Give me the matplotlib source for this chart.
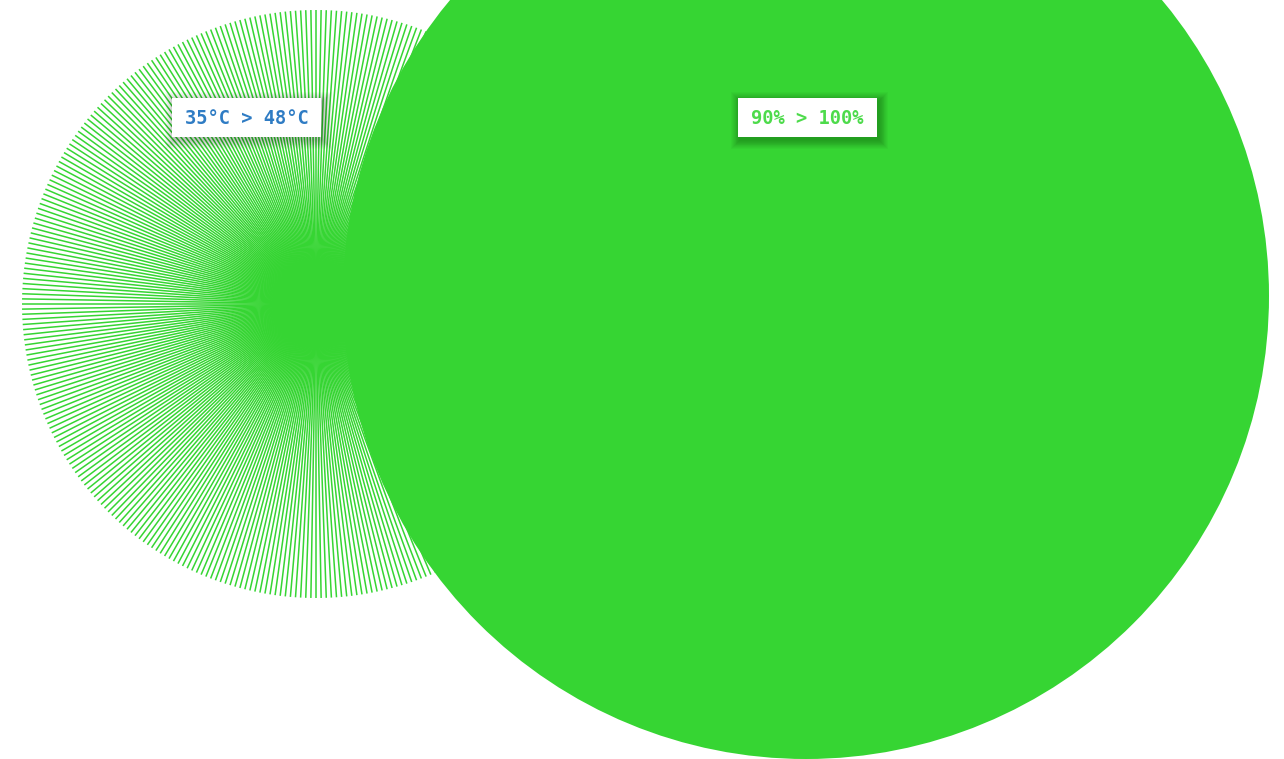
import numpy as np
import matplotlib.pyplot as plt
from matplotlib.collections import LineCollection
from matplotlib.patches import Circle, Rectangle

# data
labels = ['35°C > 48°C', '90% > 100%']
label_colors = ['#2f7cc4', '#4ddb4b']
spoke_count = 360
green = '#36d533'

W, H = 1284, 759
fig = plt.figure(figsize=(W / 100, H / 100), dpi=100)
ax = fig.add_axes([0, 0, 1, 1])
ax.set_xlim(0, W)
ax.set_ylim(H, 0)
ax.set_aspect('equal')
ax.axis('off')

# left disc made of spokes
cx1, cy1, r1 = 316, 304, 294
ang = np.linspace(0, 2 * np.pi, spoke_count, endpoint=False)
segs = [[(cx1, cy1), (cx1 + r1 * np.cos(a), cy1 + r1 * np.sin(a))] for a in ang]
ax.add_collection(LineCollection(segs, colors=green, linewidths=1.1, zorder=1))

# big solid disc
ax.add_patch(Circle((806, 296), 463, color=green, lw=0, zorder=2))


def label_box(x, y, w, h, text, color):
    # soft shadow
    for i in range(20, 0, -1):
        d = i * 0.45
        ax.add_patch(Rectangle((x + 2 - d, y + 3 - d), w + 2 * d, h + 2 * d,
                               color='black', alpha=0.012, lw=0, zorder=3))
    ax.add_patch(Rectangle((x, y), w, h, color='white', lw=0, zorder=4))
    ax.text(x + w / 2, y + h / 2 + 1, text, color=color, ha='center', va='center',
            family='DejaVu Sans Mono', fontsize=13.5, fontweight='bold', zorder=5)


label_box(172, 98, 149, 39, labels[0], label_colors[0])
label_box(738, 98, 139, 39, labels[1], label_colors[1])

fig.savefig('out.png', dpi=100)
